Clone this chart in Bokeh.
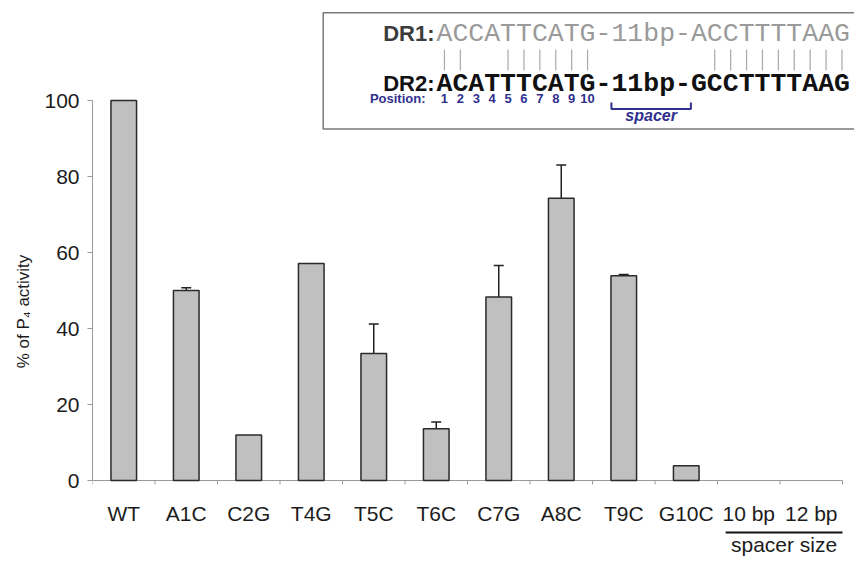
import math
from bokeh.plotting import figure
from bokeh.models import ColumnDataSource, Range1d, FixedTicker, Whisker, TeeHead
from bokeh.layouts import column, row
from bokeh.embed import file_html
from bokeh.resources import INLINE
from bokeh.core.properties import value

# ---------------- data ----------------
categories = ["WT", "A1C", "C2G", "T4G", "T5C", "T6C", "C7G", "A8C", "T9C", "G10C", "10 bp", "12 bp"]
activity = [100.0, 50.0, 12.0, 57.1, 33.4, 13.6, 48.3, 74.3, 53.9, 3.9, 0.0, 0.0]
error_up = [0.0, 0.7, 0.0, 0.0, 7.8, 1.8, 8.3, 8.7, 0.3, 0.0, 0.0, 0.0]
y_ticks = [0, 20, 40, 60, 80, 100]
spacer_group = ["10 bp", "12 bp"]
spacer_label = "spacer size"
y_label = "% of P\u2084 activity"
dr1_label = "DR1:"
dr2_label = "DR2:"
dr1_seq = "ACCATTCATG-11bp-ACCTTTTAAG"
dr2_seq = "ACATTTCATG-11bp-GCCTTTTAAG"
position_title = "Position:"
position_numbers = ["1", "2", "3", "4", "5", "6", "7", "8", "9", "10"]
spacer_word = "spacer"

# ---------------- layout helpers (picture pixel -> data) ----------------
LEFT_STRIP = 40
FRAME_LEFT_PX, PX_PER_X = 92.0, 62.5
ZERO_PX, PX_PER_Y = 480.0, 3.8          # picture row of y = 0, pixels per unit
FRAME_W = 762
FRAME_BOTTOM_PX = 486                    # frame runs a little below y = 0 to hold the ticks
FRAME_H = FRAME_BOTTOM_PX
BOTTOM_BORDER = 8
X_END = FRAME_W / PX_PER_X
Y_START = -(FRAME_BOTTOM_PX - ZERO_PX) / PX_PER_Y
Y_END = ZERO_PX / PX_PER_Y
STRIP_TOP = FRAME_BOTTOM_PX + BOTTOM_BORDER
STRIP_H = 66
SANS_MID = 0.35                           # baseline -> middle offset, in em
MONO_MID = 0.30


def dx(px):
    return (px - FRAME_LEFT_PX) / PX_PER_X


def dy(py):
    return (ZERO_PX - py) / PX_PER_Y


def sy(py):
    return py - STRIP_TOP


def mid(baseline_px, fs, k=SANS_MID):
    return baseline_px - k * fs


n = len(categories)
centers = [i + 0.5 for i in range(n)]
boundaries = [float(i) for i in range(n + 1)]

TXT = "#1c1c1c"
AX = "#9a9a9a"
BLUE = "#30308f"

p = figure(frame_width=FRAME_W, frame_height=FRAME_H,
           min_border_left=int(FRAME_LEFT_PX) - LEFT_STRIP, min_border_right=0,
           min_border_top=0, min_border_bottom=BOTTOM_BORDER,
           x_range=Range1d(0, X_END), y_range=Range1d(Y_START, Y_END),
           x_axis_location=None,
           output_backend="svg", toolbar_location=None)
p.outline_line_color = None
p.grid.grid_line_color = None
p.background_fill_color = "white"
p.border_fill_color = "white"

# x axis line over the category span, ticks at category boundaries
tick_len = 4 / PX_PER_Y
p.segment(x0=[boundaries[0]], x1=[boundaries[-1]], y0=[0], y1=[0], line_color=AX, line_width=1)
p.segment(x0=boundaries, x1=boundaries, y0=[0] * len(boundaries), y1=[-tick_len] * len(boundaries),
          line_color=AX, line_width=1)

# bars
bar_idx = [i for i in range(n) if activity[i] > 0]
bars = ColumnDataSource(dict(x=[centers[i] for i in bar_idx], top=[activity[i] for i in bar_idx]))
p.vbar(x="x", top="top", bottom=0, width=0.41, source=bars,
       fill_color="#c0c0c0", line_color="#2a2a2a", line_width=1.5)

# error bars (upper only)
err_idx = [i for i in range(n) if error_up[i] > 0]
errs = ColumnDataSource(dict(base=[centers[i] for i in err_idx],
                             lower=[activity[i] for i in err_idx],
                             upper=[activity[i] + error_up[i] for i in err_idx]))
p.add_layout(Whisker(base="base", lower="lower", upper="upper", source=errs,
                     lower_head=None,
                     upper_head=TeeHead(size=10, line_color="#222222", line_width=1.5),
                     line_color="#222222", line_width=1.5))

# y axis
ya = p.yaxis[0]
ya.ticker = FixedTicker(ticks=y_ticks)
ya.bounds = (0, 100)
ya.axis_line_color = AX
ya.major_tick_line_color = AX
ya.major_tick_out = 5
ya.major_tick_in = 0
ya.minor_tick_line_color = None
ya.minor_tick_out = 0
ya.major_label_standoff = 8
ya.major_label_text_font = "Liberation Sans"
ya.major_label_text_font_size = "21px"
ya.major_label_text_color = TXT

# ---------------- inset ----------------
FS = 26.5
CELL = 0.6 * FS
SEQ_LEFT = 436.0

p.quad(left=dx(322.7), right=X_END + 1, top=dy(12.3), bottom=dy(128.5),
       fill_color="white", line_color="#7a7a7a", line_width=1.5)

p.text(x=[dx(SEQ_LEFT - 2)], y=[dy(mid(41, 22))], text=[dr1_label], text_align="right",
       text_baseline="middle", text_font=value("Liberation Sans"), text_font_style="bold",
       text_font_size="22px", text_color="#3c3c3c")
p.text(x=[dx(SEQ_LEFT)], y=[dy(mid(41, FS, MONO_MID))], text=[dr1_seq], text_align="left",
       text_baseline="middle", text_font=value("Liberation Mono"),
       text_font_size=f"{FS}px", text_color="#9a9a9a")
p.text(x=[dx(SEQ_LEFT - 2)], y=[dy(mid(91, 22))], text=[dr2_label], text_align="right",
       text_baseline="middle", text_font=value("Liberation Sans"), text_font_style="bold",
       text_font_size="22px", text_color="#111111")
p.text(x=[dx(SEQ_LEFT)], y=[dy(mid(91, FS, MONO_MID))], text=[dr2_seq], text_align="left",
       text_baseline="middle", text_font=value("Liberation Mono"), text_font_style="bold",
       text_font_size=f"{FS}px", text_color="#111111")

spacer_idx = range(dr2_seq.index("-"), dr2_seq.rindex("-") + 1)
match_x = [dx(SEQ_LEFT + (i + 0.5) * CELL) for i in range(len(dr1_seq))
           if dr1_seq[i] == dr2_seq[i] and i not in spacer_idx]
p.segment(x0=match_x, x1=match_x, y0=[dy(49)] * len(match_x), y1=[dy(70)] * len(match_x),
          line_color="#a8a8a8", line_width=1.2)

POS_BASE = 102.5
p.text(x=[dx(425)], y=[dy(mid(POS_BASE, 13))], text=[position_title], text_align="right",
       text_baseline="middle", text_font=value("Liberation Sans"), text_font_style="bold",
       text_font_size="13px", text_color=BLUE)
num_x = [dx(SEQ_LEFT + (i + 0.5) * CELL) for i in range(len(position_numbers))]
p.text(x=num_x, y=[dy(mid(POS_BASE, 13))] * len(num_x), text=position_numbers, text_align="center",
       text_baseline="middle", text_font=value("Liberation Sans"), text_font_style="bold",
       text_font_size="13px", text_color=BLUE)

br_l = SEQ_LEFT + (spacer_idx[0] + 1) * CELL
br_r = SEQ_LEFT + (spacer_idx[-1] + 1) * CELL
p.line(x=[dx(br_l), dx(br_l), dx(br_r), dx(br_r)], y=[dy(102), dy(108.5), dy(108.5), dy(102)],
       line_color=BLUE, line_width=2)
p.text(x=[dx((br_l + br_r) / 2)], y=[dy(mid(120.5, 16))], text=[spacer_word], text_align="center",
       text_baseline="middle", text_font=value("Liberation Sans"), text_font_style="bold italic",
       text_font_size="16px", text_color=BLUE)

# ---------------- strip below: category labels, spacer size ----------------
p2 = figure(frame_width=FRAME_W, frame_height=STRIP_H,
            min_border_left=int(FRAME_LEFT_PX) - LEFT_STRIP, min_border_right=0,
            min_border_top=0, min_border_bottom=0,
            x_range=p.x_range, y_range=Range1d(STRIP_H, 0),
            x_axis_location=None, y_axis_location=None,
            output_backend="svg", toolbar_location=None)
p2.outline_line_color = None
p2.grid.grid_line_color = None
p2.background_fill_color = "white"
p2.border_fill_color = "white"
p2.text(x=centers, y=[sy(mid(520, 21))] * n, text=categories, text_align="center",
        text_baseline="middle", text_font=value("Liberation Sans"),
        text_font_size="21px", text_color=TXT)
i0 = categories.index(spacer_group[0])
i1 = categories.index(spacer_group[-1])
p2.segment(x0=[boundaries[i0] + 0.13], x1=[boundaries[i1 + 1]], y0=[sy(532)], y1=[sy(532)],
           line_color="#111111", line_width=2)
p2.text(x=[(boundaries[i0] + 0.13 + boundaries[i1 + 1]) / 2], y=[sy(mid(551.5, 21))],
        text=[spacer_label], text_align="center", text_baseline="middle",
        text_font=value("Liberation Sans"), text_font_size="21px", text_color=TXT)

# ---------------- strip left: y axis title ----------------
p0 = figure(frame_width=LEFT_STRIP, frame_height=FRAME_H,
            min_border_left=0, min_border_right=0, min_border_top=0, min_border_bottom=0,
            x_range=Range1d(0, LEFT_STRIP), y_range=p.y_range,
            x_axis_location=None, y_axis_location=None,
            output_backend="svg", toolbar_location=None)
p0.outline_line_color = None
p0.grid.grid_line_color = None
p0.background_fill_color = "white"
p0.border_fill_color = "white"
p0.text(x=[22.5], y=[dy(311)], text=[y_label], angle=math.pi / 2,
        text_align="center", text_baseline="middle", text_font=value("Liberation Sans"),
        text_font_size="17px", text_color=TXT)

layout = row(p0, column(p, p2, spacing=0), spacing=0)
open("out.html", "w").write(file_html(layout, INLINE))
